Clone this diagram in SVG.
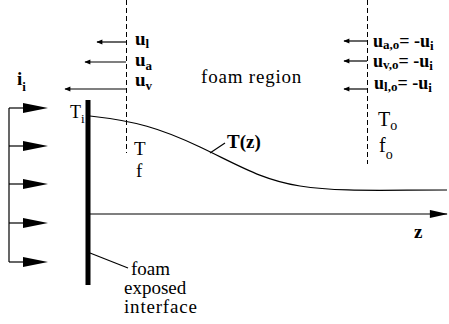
<svg xmlns="http://www.w3.org/2000/svg" width="449" height="324" viewBox="0 0 449 324">
<style>
.t{font-family:'Liberation Serif',serif;fill:#000;}
.b{font-weight:bold;}
.ln{stroke:#000;fill:none;stroke-width:1.2;}
.dash{stroke:#000;fill:none;stroke-width:1;stroke-dasharray:5,3;}
</style>
<defs>
<marker id="ah" viewBox="0 0 10 10" refX="9" refY="5" markerWidth="7" markerHeight="6" orient="auto" markerUnits="userSpaceOnUse">
<path d="M0,1 L10,5 L0,9 Z" fill="#000"/>
</marker>
<marker id="big" viewBox="0 0 20 10" refX="19" refY="5" markerWidth="19" markerHeight="9" orient="auto" markerUnits="userSpaceOnUse">
<path d="M0,0.5 L20,5 L0,9.5 Z" fill="#000"/>
</marker>
</defs>
<rect width="449" height="324" fill="#fff"/>

<g id="connectors">
<line class="ln" x1="9" y1="108" x2="9" y2="262"/>
<g id="flux-arrows">
<line class="ln" x1="9" y1="108" x2="23" y2="108"/><polygon points="23,103 48,108 23,113"/>
<line class="ln" x1="9" y1="146" x2="23" y2="146"/><polygon points="23,141 48,146 23,151"/>
<line class="ln" x1="9" y1="184" x2="23" y2="184"/><polygon points="23,179 48,184 23,189"/>
<line class="ln" x1="9" y1="223" x2="23" y2="223"/><polygon points="23,218 48,223 23,228"/>
<line class="ln" x1="9" y1="262" x2="23" y2="262"/><polygon points="23,257 48,262 23,267"/>
</g>
<line class="dash" x1="126.5" y1="0" x2="126.5" y2="153"/>
<line class="dash" x1="367.5" y1="0" x2="367.5" y2="164"/>
<line class="ln" x1="126" y1="42" x2="97" y2="42" marker-end="url(#ah)"/>
<line class="ln" x1="126" y1="62" x2="85" y2="62" marker-end="url(#ah)"/>
<line class="ln" x1="126" y1="89" x2="65" y2="89" marker-end="url(#ah)"/>
<line class="ln" x1="367" y1="41" x2="344" y2="41" marker-end="url(#ah)"/>
<line class="ln" x1="367" y1="61" x2="344" y2="61" marker-end="url(#ah)"/>
<line class="ln" x1="367" y1="89" x2="344" y2="89" marker-end="url(#ah)"/>
<path class="ln" d="M90,116 C135,121 160,128 200,147 S262,180 300,186 S380,190 447,190"/>
<line class="ln" x1="210" y1="153" x2="225" y2="143"/>
<line class="ln" x1="90" y1="214" x2="447" y2="214" marker-end="url(#big)"/>
<line class="ln" x1="90" y1="253" x2="128" y2="268"/>
</g>

<g id="interface">
<rect x="85.5" y="100" width="5" height="185" fill="#000"/>
</g>

<g id="labels-left">
<text class="t b" x="17" y="85" font-size="19">i<tspan font-size="13" dy="6">i</tspan></text>
<text class="t" x="70" y="118" font-size="18">T<tspan font-size="13" dy="5">i</tspan></text>
<text class="t b" x="135" y="45" font-size="19">u<tspan font-size="13" dy="3">l</tspan></text>
<text class="t b" x="135" y="66" font-size="19">u<tspan font-size="13" dy="4">a</tspan></text>
<text class="t b" x="135" y="86" font-size="19">u<tspan font-size="13" dy="4">v</tspan></text>
<text class="t" x="134" y="155" font-size="19">T</text>
<text class="t" x="136" y="177" font-size="19">f</text>
</g>

<g id="foam-region">
<text font-family="Liberation Serif" x="201" y="83" font-size="19" letter-spacing="0.8">foam region</text>
</g>

<g id="labels-right">
<text class="t b" x="373" y="47" font-size="18">u<tspan font-size="13" dy="2">a,o</tspan><tspan dy="-2">=  </tspan>-u<tspan font-size="13" dy="3">i</tspan></text>
<text class="t b" x="373" y="67" font-size="18">u<tspan font-size="13" dy="2">v,o</tspan><tspan dy="-2">=  </tspan>-u<tspan font-size="13" dy="3">i</tspan></text>
<text class="t b" x="374" y="89" font-size="18">u<tspan font-size="13" dy="2">l,o</tspan><tspan dy="-2">=  </tspan>-u<tspan font-size="13" dy="3">i</tspan></text>
<text class="t" x="378" y="126" font-size="20">T<tspan font-size="14" dy="4">o</tspan></text>
<text class="t" x="379" y="152" font-size="20">f<tspan font-size="14" dy="7">o</tspan></text>
</g>

<g id="profile-label">
<text class="t b" x="227" y="148" font-size="19">T(z)</text>
</g>

<g id="axis-label">
<text class="t b" x="414" y="238" font-size="19">z</text>
</g>

<g id="interface-label">
<text class="t" x="131" y="275" font-size="19">foam</text>
<text class="t" x="124" y="294" font-size="19">exposed</text>
<text class="t" x="124" y="313" font-size="19" letter-spacing="0.8">interface</text>
</g>
</svg>
